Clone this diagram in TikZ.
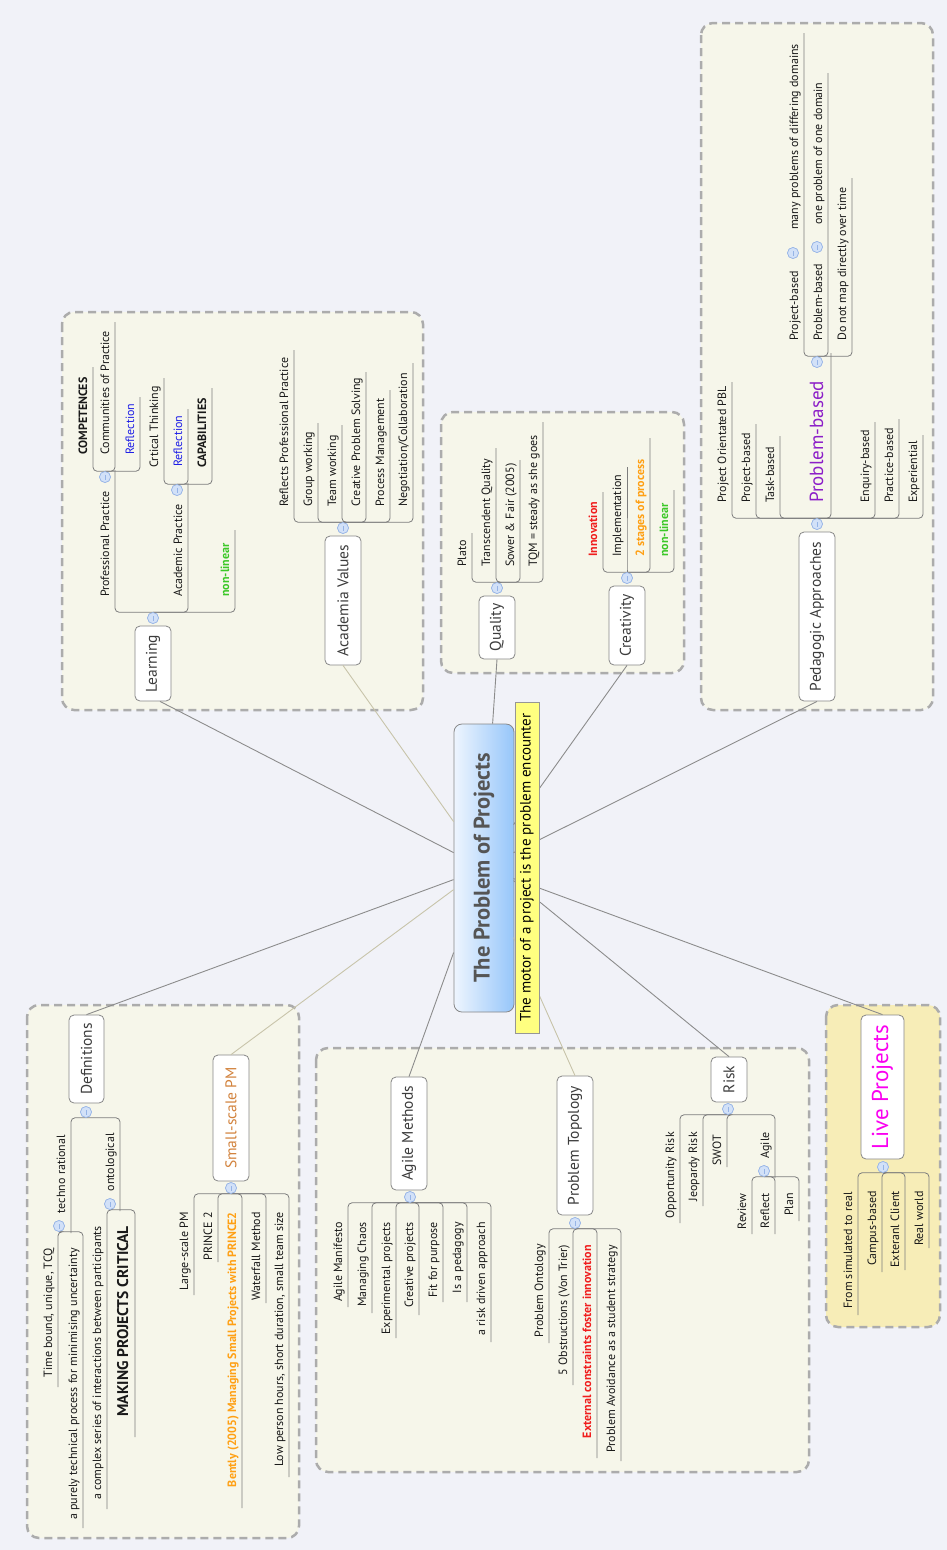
\documentclass[tikz,border=0pt]{standalone}
\usepackage{fontspec}
\setmainfont{PT Sans}
\usetikzlibrary{calc}
\definecolor{bgc}{RGB}{241,242,248}
\definecolor{boxf}{RGB}{246,246,234}
\definecolor{boxb}{RGB}{172,172,172}
\definecolor{livef}{RGB}{247,237,183}
\definecolor{linec}{RGB}{125,125,125}
\definecolor{connc}{RGB}{140,140,140}
\definecolor{connl}{RGB}{200,196,170}
\definecolor{nodeb}{RGB}{135,135,135}
\definecolor{txtc}{RGB}{25,25,25}
\definecolor{topc}{RGB}{60,60,60}
\definecolor{colf}{RGB}{210,225,248}
\definecolor{colb}{RGB}{150,180,230}
\definecolor{myred}{RGB}{240,30,30}
\definecolor{mygreen}{RGB}{60,200,40}
\definecolor{myorange}{RGB}{255,160,20}
\definecolor{myblue}{RGB}{30,30,230}
\definecolor{mypurple}{RGB}{140,30,200}
\definecolor{mymag}{RGB}{250,0,240}
\definecolor{mybrown}{RGB}{210,130,60}
\definecolor{cent1}{RGB}{238,245,254}
\definecolor{cent2}{RGB}{150,198,250}
\definecolor{ylab}{RGB}{255,255,128}
\begin{document}
\begin{tikzpicture}[x=1pt,y=-1pt,
  sub/.style={rotate=90, inner sep=0pt, font=\fontsize{12}{14}\selectfont, text=txtc},
  upt/.style={sub, anchor=base west},
  dnt/.style={sub, anchor=base east},
  bftext/.style={font=\fontsize{12}{14}\selectfont\bfseries},
  topic/.style={draw=nodeb, fill=white, rounded corners=5pt, line width=0.8pt, inner sep=0pt,
     minimum width=36pt, font=\fontsize{15.5}{18}\selectfont, text=topc},
  tl/.style={draw=linec, line width=0.8pt, rounded corners=4pt},
  col/.style={circle, fill=colf, draw=colb, line width=0.6pt, minimum size=11pt, inner sep=0pt,
     path picture={\draw[colb, line width=0.7pt] ([yshift=-2.5pt]path picture bounding box.center) -- ([yshift=2.5pt]path picture bounding box.center);}},
  grp/.style={fill=boxf, draw=boxb, line width=2.5pt, dash pattern=on 8pt off 5pt, rounded corners=12pt},
  conn/.style={draw=connc, line width=0.9pt},
  connlt/.style={draw=connl, line width=0.9pt}]
\useasboundingbox (0,0) rectangle (947,1550);
\fill[bgc] (0,0) rectangle (947,1550);

% group frames
\draw[grp] (62,312) rectangle (423,710);
\draw[grp] (441,412) rectangle (684,673);
\draw[grp] (701,23) rectangle (933,710);
\draw[grp] (27,1005) rectangle (299,1538);
\draw[grp] (316,1048) rectangle (809,1472);
\draw[grp, fill=livef] (826,1005) rectangle (940,1327);

% central node
\node[draw=nodeb, line width=0.8pt, rounded corners=8pt, left color=cent1, right color=cent2,
      minimum width=60pt, minimum height=288pt, inner sep=0pt] (center) at (484,868) {};

% topic nodes
\node[topic, minimum height=75pt] (learning) at (153,663.5) {\rotatebox{90}{Learning}};
\node[topic, minimum height=129pt] (academia) at (343,600.5) {\rotatebox{90}{Academia Values}};
\node[topic, minimum height=63pt] (quality) at (497,627.5) {\rotatebox{90}{Quality}};
\node[topic, minimum height=79pt] (creativity) at (627,625.5) {\rotatebox{90}{Creativity}};
\node[topic, minimum height=169pt] (ped) at (817,616.5) {\rotatebox{90}{Pedagogic Approaches}};
\node[topic, minimum height=88pt, minimum width=35pt] (defs) at (86.5,1059) {\rotatebox{90}{Definitions}};
\node[topic, minimum height=126pt, text=mybrown] (small) at (231,1118) {\rotatebox{90}{Small-scale PM}};
\node[topic, minimum height=113pt] (agile) at (409,1133.5) {\rotatebox{90}{Agile Methods}};
\node[topic, minimum height=139pt] (topo) at (575,1145.5) {\rotatebox{90}{Problem Topology}};
\node[topic, minimum height=45pt] (risk) at (729,1079.5) {\rotatebox{90}{Risk}};
\node[topic, minimum height=144pt, minimum width=43pt, text=mymag, font=\fontsize{23}{26}\selectfont] (live) at (882.5,1087) {\rotatebox{90}{Live Projects}};

% main connectors
\draw[conn] ($(center.north west)+(0,129)$) -- ($(learning.south)+(7,0)$);
\draw[connlt] ($(center.north west)+(0,98)$) -- (academia.south);
\draw[conn] ($(center.north west)+(39,0)$) -- (quality.south);
\draw[conn] ($(center.north west)+(60,101)$) -- (creativity.south);
\draw[conn] ($(center.north west)+(60,129)$) -- (ped.south);
\draw[conn] ($(center.north west)+(0,156)$) -- (defs.north);
\draw[connlt] ($(center.north west)+(0,166)$) -- (small.north);
\draw[conn] ($(center.north west)+(0,229)$) -- (agile.north);
\draw[connlt] ($(center.north west)+(60,214)$) -- (topo.north);
\draw[conn] ($(center.north west)+(60,157)$) -- (risk.north);
\draw[conn] ($(center.north west)+(60,155)$) -- (live.north);

% collapse circles
\node[col] (Lc) at (153,618) {};
\node[col] (PPc) at (105,477) {};
\node[col] (APc) at (177,490) {};
\node[col] (Ac) at (343,528) {};
\node[col] (Qc) at (497,588) {};
\node[col] (Cc) at (627,578) {};
\node[col] (Pc) at (817,524) {};
\node[col] (PBc) at (817,362) {};
\node[col] (PRc) at (793,253) {};
\node[col] (PB2c) at (817,247) {};
\node[col] (Dc) at (86,1112) {};
\node[col] (TRc) at (59,1226) {};
\node[col] (ONc) at (110,1204) {};
\node[col] (Sc) at (231,1188) {};
\node[col] (AGc) at (410,1197) {};
\node[col] (Tc) at (575,1223) {};
\node[col] (Rc) at (728,1109) {};
\node[col] (RAc) at (764,1171) {};
\node[col] (LVc) at (883,1167) {};

% branch lines (top half)
\foreach \x/\y in {115/470,188/483,235/530} \draw[tl] (Lc.north) -| (\x,\y);
\foreach \x/\y in {93/367,115/322,140/397} \draw[tl] (PPc.north) -| (\x,\y);
\foreach \x/\y in {164/378,188/409,212/388} \draw[tl] (APc.north) -| (\x,\y);
\foreach \x/\y in {294/350,318/423,342/425,366/372,390/390,413/363} \draw[tl] (Ac.north) -| (\x,\y);
\foreach \x/\y in {472/533,496/448,520/460,543/422} \draw[tl] (Qc.north) -| (\x,\y);
\foreach \x/\y in {603/492,627/467,650/438,674/490} \draw[tl] (Cc.north) -| (\x,\y);
\foreach \x/\y in {732/382,756/424,780/436,831/353,875/422,899/419,923/435} \draw[tl] (Pc.north) -| (\x,\y);
\foreach \x/\y in {804/33,828/73,852/178} \draw[tl] (PBc.north) -| (\x,\y);
% branch lines (bottom half)
\foreach \x/\y in {71/1233,120/1211} \draw[tl] (Dc.south) -| (\x,\y);
\foreach \x/\y in {58/1387,83/1528} \draw[tl] (TRc.south) -| (\x,\y);
\foreach \x/\y in {107/1509,135/1437} \draw[tl] (ONc.south) -| (\x,\y);
\foreach \x/\y in {194/1295,218/1262,242/1508,266/1303,289/1477} \draw[tl] (Sc.south) -| (\x,\y);
\foreach \x/\y in {348/1307,372/1313,396/1338,419/1315,443/1302,467/1302,491/1342} \draw[tl] (AGc.south) -| (\x,\y);
\foreach \x/\y in {549/1343,573/1385,597/1458,621/1461} \draw[tl] (Tc.south) -| (\x,\y);
\foreach \x/\y in {680/1223,703/1206,727/1167,775/1178} \draw[tl] (Rc.south) -| (\x,\y);
\foreach \x/\y in {752/1234,775/1234,799/1221} \draw[tl] (RAc.south) -| (\x,\y);
\foreach \x/\y in {858/1315,882/1272,905/1270,929/1248} \draw[tl] (LVc.south) -| (\x,\y);

% redraw circles on top of lines
\foreach \c in {Lc,PPc,APc,Ac,Qc,Cc,Pc,PBc,PRc,PB2c,Dc,TRc,ONc,Sc,AGc,Tc,Rc,RAc,LVc}
  \node[col] at (\c) {};

% Learning
\node[upt] (l1) at (109,597) {Professional Practice};
\node[upt, bftext] (l2) at (87,455) {COMPETENCES};
\node[upt] (l3) at (109,455) {Communities of Practice};
\node[upt, text=myblue] (l4) at (134,455) {Reflection};
\node[upt] (l5) at (182,597) {Academic Practice};
\node[upt] (l6) at (158,468) {Crtical Thinking};
\node[upt, text=myblue] (l7) at (182,467) {Reflection};
\node[upt, bftext] (l8) at (206,468) {CAPABILITIES};
\node[upt, bftext, text=mygreen] (l9) at (229,597) {non-linear};
% Academia
\node[upt] (a1) at (288,507) {Reflects Professional Practice};
\node[upt] (a2) at (312,507) {Group working};
\node[upt] (a3) at (336,507) {Team working};
\node[upt] (a4) at (360,507) {Creative Problem Solving};
\node[upt] (a5) at (384,507) {Process Management};
\node[upt] (a6) at (407,507) {Negotiation/Collaboration};
% Quality
\node[upt] (q1) at (466,567) {Plato};
\node[upt] (q2) at (490,567) {Transcendent Quality};
\node[upt] (q3) at (514,567) {Sower \& Fair (2005)};
\node[upt] (q4) at (537,567) {TQM = steady as she goes};
% Creativity
\node[upt, bftext, text=myred] (c1) at (597,557) {Innovation};
\node[upt] (c2) at (621,557) {Implementation};
\node[upt, bftext, text=myorange] (c3) at (644,557) {2 stages of process};
\node[upt, bftext, text=mygreen] (c4) at (668,557) {non-linear};
% Pedagogic
\node[upt] (p1) at (726,503) {Project Orientated PBL};
\node[upt] (p2) at (750,503) {Project-based};
\node[upt] (p3) at (774,503) {Task-based};
\node[upt, text=mypurple, font=\fontsize{19}{22}\selectfont] (p4) at (823,503) {Problem-based};
\node[upt] (p5) at (869,503) {Enquiry-based};
\node[upt] (p6) at (893,503) {Practice-based};
\node[upt] (p7) at (917,503) {Experiential};
\node[upt] (p8) at (798,341) {Project-based};
\node[upt] (p9) at (798,230) {many problems of differing domains};
\node[upt] (p10) at (822,341) {Problem-based};
\node[upt] (p11) at (822,225) {one problem of one domain};
\node[upt] (p12) at (846,341) {Do not map directly over time};
% Definitions
\node[dnt] (d1) at (65,1135) {techno rational};
\node[dnt] (d2) at (114,1133) {ontological};
\node[dnt] (d3) at (52,1248) {Time bound, unique, TCQ};
\node[dnt] (d4) at (77,1248) {a purely technical process for minimising uncertainty};
\node[dnt] (d5) at (101,1226) {a complex series of interactions between participants};
\node[dnt, font=\fontsize{15.5}{18}\selectfont\bfseries] (d6) at (128,1226) {MAKING PROJECTS CRITICAL};
% Small-scale
\node[dnt] (s1) at (188,1212) {Large-scale PM};
\node[dnt] (s2) at (212,1212) {PRINCE 2};
\node[dnt, bftext, text=myorange] (s3) at (236,1212) {Bently (2005) Managing Small Projects with PRINCE2};
\node[dnt] (s4) at (260,1212) {Waterfall Method};
\node[dnt] (s5) at (283,1212) {Low person hours, short duration, small team size};
% Agile
\node[dnt] (g1) at (342,1222) {Agile Manifesto};
\node[dnt] (g2) at (366,1222) {Managing Chaos};
\node[dnt] (g3) at (390,1222) {Experimental projects};
\node[dnt] (g4) at (413,1222) {Creative projects};
\node[dnt] (g5) at (437,1222) {Fit for purpose};
\node[dnt] (g6) at (461,1222) {Is a pedagogy};
\node[dnt] (g7) at (485,1222) {a risk driven approach};
% Topology
\node[dnt] (o1) at (543,1244) {Problem Ontology};
\node[dnt] (o2) at (567,1245) {5 Obstructions (Von Trier)};
\node[dnt, bftext, text=myred] (o3) at (591,1245) {External constraints foster innovation};
\node[dnt] (o4) at (615,1245) {Problem Avoidance as a student strategy};
% Risk
\node[dnt] (r1) at (674,1132) {Opportunity Risk};
\node[dnt] (r2) at (697,1132) {Jeopardy Risk};
\node[dnt] (r3) at (721,1135) {SWOT};
\node[dnt] (r4) at (769,1132) {Agile};
\node[dnt] (r5) at (746,1193) {Review};
\node[dnt] (r6) at (769,1193) {Reflect};
\node[dnt] (r7) at (793,1193) {Plan};
% Live
\node[dnt] (v1) at (852,1192) {From simulated to real};
\node[dnt] (v2) at (876,1191) {Campus-based};
\node[dnt] (v3) at (899,1191) {Exteranl Client};
\node[dnt] (v4) at (923,1191) {Real world};

% central title and motto
\node[rotate=90, inner sep=0pt, font=\fontsize{22.5}{25}\selectfont\bfseries, text={rgb,255:red,85;green,85;blue,85}] (ctext) at (center.center) {The Problem of Projects};
\node[draw={rgb,255:red,150;green,150;blue,150}, line width=0.7pt, fill=ylab, minimum width=24pt, minimum height=331pt, inner sep=0pt,
      font=\fontsize{15}{17}\selectfont, text=black] (motor) at (527,867.5) {\rotatebox{90}{The motor of a project is the problem encounter}};
\end{tikzpicture}
\end{document}
